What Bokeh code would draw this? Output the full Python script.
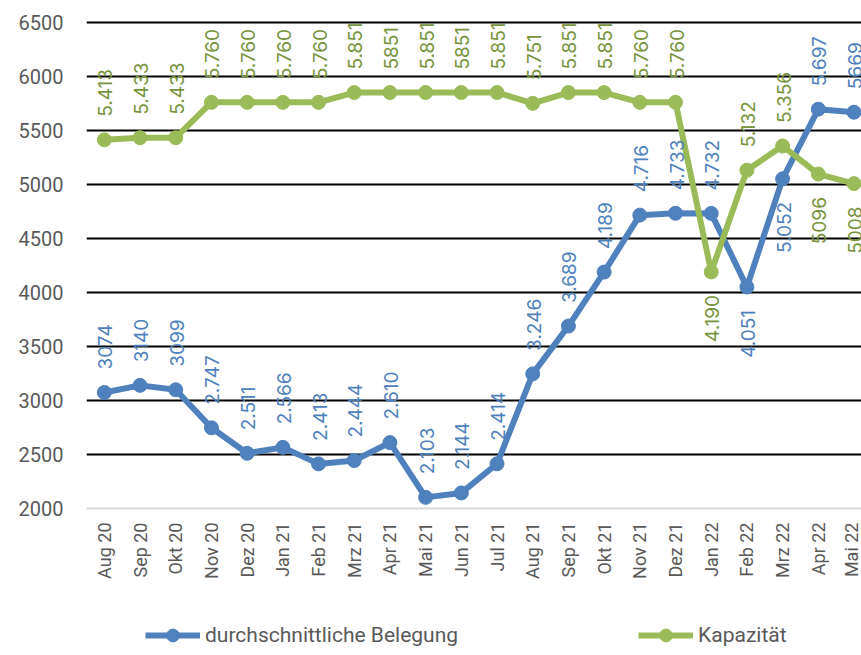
import math
from bokeh.plotting import figure
from bokeh.layouts import column
from bokeh.models import FixedTicker, Legend, LegendItem, ColumnDataSource, Range1d
from bokeh.core.properties import value
from bokeh.embed import file_html
from bokeh.resources import INLINE

months = ["Aug 20", "Sep 20", "Okt 20", "Nov 20", "Dez 20", "Jan 21", "Feb 21", "Mrz 21",
          "Apr 21", "Mai 21", "Jun 21", "Jul 21", "Aug 21", "Sep 21", "Okt 21", "Nov 21",
          "Dez 21", "Jan 22", "Feb 22", "Mrz 22", "Apr 22", "Mai 22"]

belegung = [3074, 3140, 3099, 2747, 2511, 2566, 2413, 2444, 2610, 2103, 2144, 2414,
            3246, 3689, 4189, 4716, 4733, 4732, 4051, 5052, 5697, 5669]
belegung_labels = ["3074", "3140", "3099", "2.747", "2.511", "2.566", "2.413", "2.444",
                   "2.610", "2.103", "2.144", "2.414", "3.246", "3.689", "4.189", "4.716",
                   "4.733", "4.732", "4.051", "5.052", "5.697", "5669"]

kapazitaet = [5413, 5433, 5433, 5760, 5760, 5760, 5760, 5851, 5851, 5851, 5851, 5851,
              5751, 5851, 5851, 5760, 5760, 4190, 5132, 5356, 5096, 5008]
kapazitaet_labels = ["5.413", "5.433", "5.433", "5.760", "5.760", "5.760", "5.760", "5.851",
                     "5851", "5.851", "5851", "5.851", "5.751", "5.851", "5.851", "5.760",
                     "5.760", "4.190", "5.132", "5.356", "5096", "5008"]

y_ticks = [2000, 2500, 3000, 3500, 4000, 4500, 5000, 5500, 6000, 6500]

series_names = ["durchschnittliche Belegung", "Kapazität"]

# label placement (above/below the point)
belegung_side = ["above"] * 18 + ["below", "below", "above", "above"]
kapazitaet_side = ["above"] * 17 + ["below", "above", "above", "below", "below"]

BLUE = "#4F81BD"
GREEN = "#9BBB59"
BLUE_TXT = "#4F81BD"
GREEN_TXT = "#77933C"
GRAY = "#595959"

xs = list(range(len(months)))

p = figure(width=861, height=600, x_range=Range1d(-0.5, 21.21), y_range=Range1d(2000, 6592),
           output_backend="svg", toolbar_location=None,
           min_border_left=86, min_border_right=0, min_border_top=12, min_border_bottom=92)
p.outline_line_color = None
p.background_fill_color = "white"
p.border_fill_color = "white"

p.xgrid.visible = False
p.ygrid.ticker = FixedTicker(ticks=y_ticks[1:])
p.ygrid.grid_line_color = "black"
p.ygrid.grid_line_width = 2

yax = p.yaxis[0]
yax.ticker = FixedTicker(ticks=y_ticks)
yax.axis_line_color = None
yax.major_tick_line_color = None
yax.minor_tick_line_color = None
yax.major_tick_out = 0
yax.major_tick_in = 0
yax.major_label_standoff = 23
yax.major_label_text_font = "Roboto"
yax.major_label_text_font_size = "20px"
yax.major_label_text_color = GRAY

xax = p.xaxis[0]
xax.ticker = FixedTicker(ticks=xs)
xax.major_label_overrides = {i: m for i, m in enumerate(months)}
xax.major_label_orientation = math.pi / 2
xax.axis_line_color = "#D9D9D9"
xax.axis_line_width = 2
xax.major_tick_line_color = None
xax.minor_tick_line_color = None
xax.major_tick_out = 0
xax.major_tick_in = 0
xax.major_label_standoff = 14
xax.major_label_text_font = "Roboto"
xax.major_label_text_font_size = "18px"
xax.major_label_text_color = GRAY

src_b = ColumnDataSource(dict(x=xs, y=belegung))
src_k = ColumnDataSource(dict(x=xs, y=kapazitaet))

p.line("x", "y", source=src_b, line_color=BLUE, line_width=6, line_join="round")
p.scatter("x", "y", source=src_b, size=14, fill_color=BLUE, line_color=BLUE)
p.line("x", "y", source=src_k, line_color=GREEN, line_width=6, line_join="round")
p.scatter("x", "y", source=src_k, size=14, fill_color=GREEN, line_color=GREEN)


def add_labels(vals, labels, sides, color):
    for side, align, off in (("above", "left", -23), ("below", "right", 23)):
        idx = [i for i, s in enumerate(sides) if s == side]
        if not idx:
            continue
        src = ColumnDataSource(dict(x=[xs[i] for i in idx], y=[vals[i] for i in idx],
                                    t=[labels[i] for i in idx]))
        p.text("x", "y", text="t", source=src, angle=math.pi / 2,
               text_align=align, text_baseline="middle", y_offset=off, x_offset=1,
               text_font=value("Inter"), text_font_size="19px", text_color=color)


add_labels(belegung, belegung_labels, belegung_side, BLUE_TXT)
add_labels(kapazitaet, kapazitaet_labels, kapazitaet_side, GREEN_TXT)

# legend strip below the chart (series drawn outside its visible range, only the legend shows)
lg = figure(width=861, height=55, x_range=Range1d(100, 101), y_range=Range1d(0, 1),
            output_backend="svg", toolbar_location=None,
            x_axis_type=None, y_axis_type=None,
            min_border_left=0, min_border_right=0, min_border_top=0, min_border_bottom=0)
lg.outline_line_color = None
lg.xgrid.visible = False
lg.ygrid.visible = False
lg_lb = lg.line("x", "y", source=src_b, line_color=BLUE, line_width=6)
lg_sb = lg.scatter("x", "y", source=src_b, size=14, fill_color=BLUE, line_color=BLUE)
lg_lk = lg.line("x", "y", source=src_k, line_color=GREEN, line_width=6)
lg_sk = lg.scatter("x", "y", source=src_k, size=14, fill_color=GREEN, line_color=GREEN)

legend = Legend(items=[LegendItem(label=series_names[0], renderers=[lg_lb, lg_sb]),
                       LegendItem(label=series_names[1], renderers=[lg_lk, lg_sk])],
                location=(59, 4), orientation="horizontal",
                glyph_width=55, glyph_height=32, label_standoff=5,
                spacing=180, padding=0, margin=0,
                border_line_color=None, background_fill_alpha=0,
                label_text_font="Roboto", label_text_font_size="21px",
                label_text_align="left", label_text_color=GRAY)
lg.add_layout(legend)

layout = column(p, lg, spacing=0)
open("out.html", "w").write(file_html(layout, INLINE))
